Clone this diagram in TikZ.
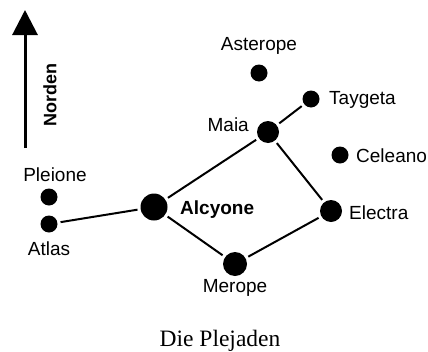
\documentclass[tikz,border=0pt]{standalone}
\usepackage{fontspec}
\setmainfont{Liberation Serif}
\setsansfont{Liberation Sans}
\usetikzlibrary{arrows.meta}
\begin{document}
\begin{tikzpicture}[x=1pt,y=-1pt,
  star/.style={circle,fill=black,inner sep=0pt,minimum size=#1},
  star/.default=17pt,
  lbl/.style={font=\sffamily\fontsize{19}{21}\selectfont,inner sep=0pt},
  link/.style={line width=2pt,shorten <=3pt,shorten >=3pt}]
  \useasboundingbox (0,0) rectangle (428,351);

  % stars
  \node[star] (asterope) at (259,73) {};
  \node[star] (taygeta)  at (311,99) {};
  \node[star=22pt] (maia) at (268,132) {};
  \node[star] (celeano)  at (340,155) {};
  \node[star] (pleione)  at (49,197) {};
  \node[star] (atlas)    at (49,224) {};
  \node[star=27pt] (alcyone) at (154,207) {};
  \node[star=22pt] (electra) at (331,211) {};
  \node[star=24pt] (merope)  at (235,264) {};

  % names
  \node[lbl] (tAsterope) at (259,46) {Asterope};
  \node[lbl,anchor=west] (tTaygeta) at (329,100) {Taygeta};
  \node[lbl,anchor=east] (tMaia) at (249,125) {Maia};
  \node[lbl,anchor=west] (tCeleano) at (356,156) {Celeano};
  \node[lbl] (tPleione) at (55,175) {Pleione};
  \node[lbl] (tAtlas) at (49,249) {Atlas};
  \node[lbl,font=\sffamily\bfseries\fontsize{19}{21}\selectfont,anchor=west] (tAlcyone) at (180,210) {Alcyone};
  \node[lbl,anchor=west] (tElectra) at (349,213) {Electra};
  \node[lbl] (tMerope) at (235,288) {Merope};

  % connecting lines
  \draw[link] (atlas) -- (alcyone);
  \draw[link] (alcyone) -- (maia);
  \draw[link] (maia) -- (taygeta);
  \draw[link] (maia) -- (electra);
  \draw[link] (electra) -- (merope);
  \draw[link] (merope) -- (alcyone);

  % north arrow
  \coordinate (nBase) at (25,148);
  \coordinate (nTip) at (25,10);
  \draw[line width=3pt,-{Triangle[width=25pt,length=25pt]}] (nBase) -- (nTip);
  \node[font=\sffamily\bfseries\fontsize{18}{20}\selectfont,rotate=90,inner sep=0pt] (norden) at (50,95) {Norden};

  % caption
  \node[font=\fontsize{23.5}{26}\selectfont,anchor=base,inner sep=0pt] (caption) at (220,346) {Die Plejaden};
\end{tikzpicture}
\end{document}
